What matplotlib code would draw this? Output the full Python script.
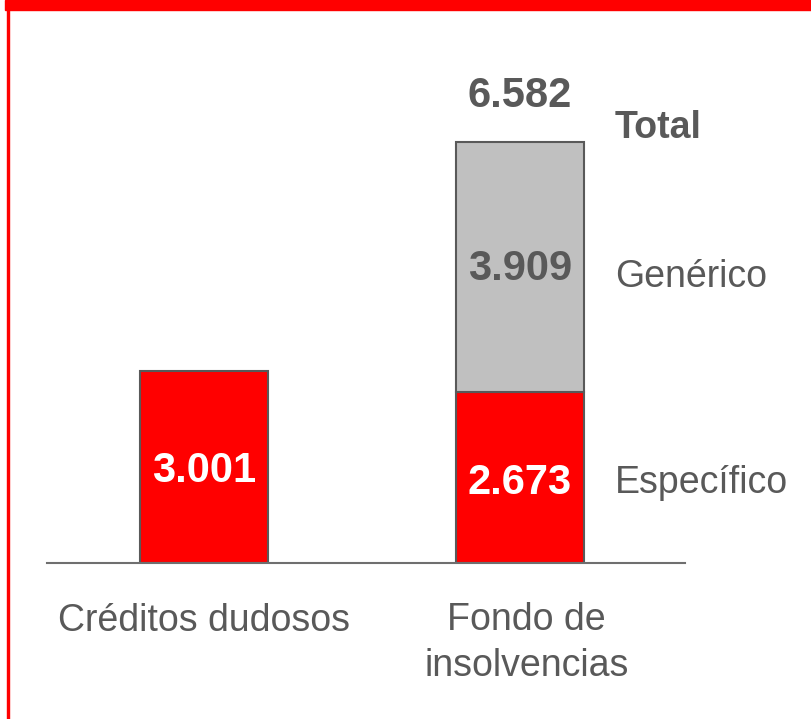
import matplotlib.pyplot as plt
from matplotlib.patches import Rectangle

# data
categories = ["Créditos dudosos", "Fondo de\ninsolvencias"]
especifico = [3.001, 2.673]
generico = [0.0, 3.909]
segment_names = ["Específico", "Genérico", "Total"]

RED = "#FF0000"
GREY = "#C0C0C0"
EDGE = "#595959"
TEXT = "#595959"

plt.rcParams["font.family"] = ["Liberation Sans", "DejaVu Sans"]

W, H = 811, 719
fig = plt.figure(figsize=(W / 100, H / 100), dpi=100)

# frame decoration: red strip on top, thin red line on the left
fig.patches.append(Rectangle((5 / W, 709 / H), 1 - 5 / W, 10 / H,
                             transform=fig.transFigure, color=RED, zorder=0))
fig.patches.append(Rectangle((7 / W, 0), 2 / W, 1,
                             transform=fig.transFigure, color=RED, zorder=0))

base_px = 563
ax = fig.add_axes([47 / W, (H - base_px) / H, 638 / W, base_px / H])
px_per_unit = 64.0
ax.set_ylim(0, base_px / px_per_unit)
ax.set_xlim(-0.497, 1.522)
for s in ["top", "right", "left"]:
    ax.spines[s].set_visible(False)
ax.spines["bottom"].set_color("#6f6f6f")
ax.spines["bottom"].set_linewidth(1.5)
ax.set_xticks([])
ax.set_yticks([])

x = [0, 1]
width = 0.405
ax.bar(x, especifico, width=width, color=RED, edgecolor=EDGE, linewidth=1.5, zorder=2)
ax.bar(x[1], generico[1], bottom=especifico[1], width=width, color=GREY,
       edgecolor=EDGE, linewidth=1.5, zorder=2)

def fmt(v):
    return f"{v:.3f}"

NUM = 30

# values inside the bars
ax.text(x[0], especifico[0] * 0.48, fmt(especifico[0]), ha="center", va="center",
        color="white", fontsize=NUM, fontweight="bold")
ax.text(x[1], especifico[1] * 0.47, fmt(especifico[1]), ha="center", va="center",
        color="white", fontsize=NUM, fontweight="bold")
ax.text(x[1], especifico[1] + generico[1] * 0.49, fmt(generico[1]), ha="center",
        va="center", color=TEXT, fontsize=NUM, fontweight="bold")
total = especifico[1] + generico[1]
ax.text(x[1], total + 0.72, fmt(total), ha="center", va="center",
        color=TEXT, fontsize=NUM, fontweight="bold")

# segment names at the right
lx = 1.30
ax.text(lx, especifico[1] * 0.47, segment_names[0], ha="left", va="center",
        color=TEXT, fontsize=27)
ax.text(lx, especifico[1] + generico[1] * 0.46, segment_names[1], ha="left",
        va="center", color=TEXT, fontsize=27)
ax.text(lx, total + 0.22, segment_names[2], ha="left", va="center",
        color=TEXT, fontsize=27, fontweight="bold")

# category labels below the baseline
ax.text(x[0], -0.9, categories[0], ha="center", va="center", color=TEXT,
        fontsize=27, clip_on=False)
ax.text(x[1] + 0.02, -1.25, categories[1], ha="center", va="center", color=TEXT,
        fontsize=27, linespacing=1.33, clip_on=False)

fig.savefig("out.png", dpi=100)
